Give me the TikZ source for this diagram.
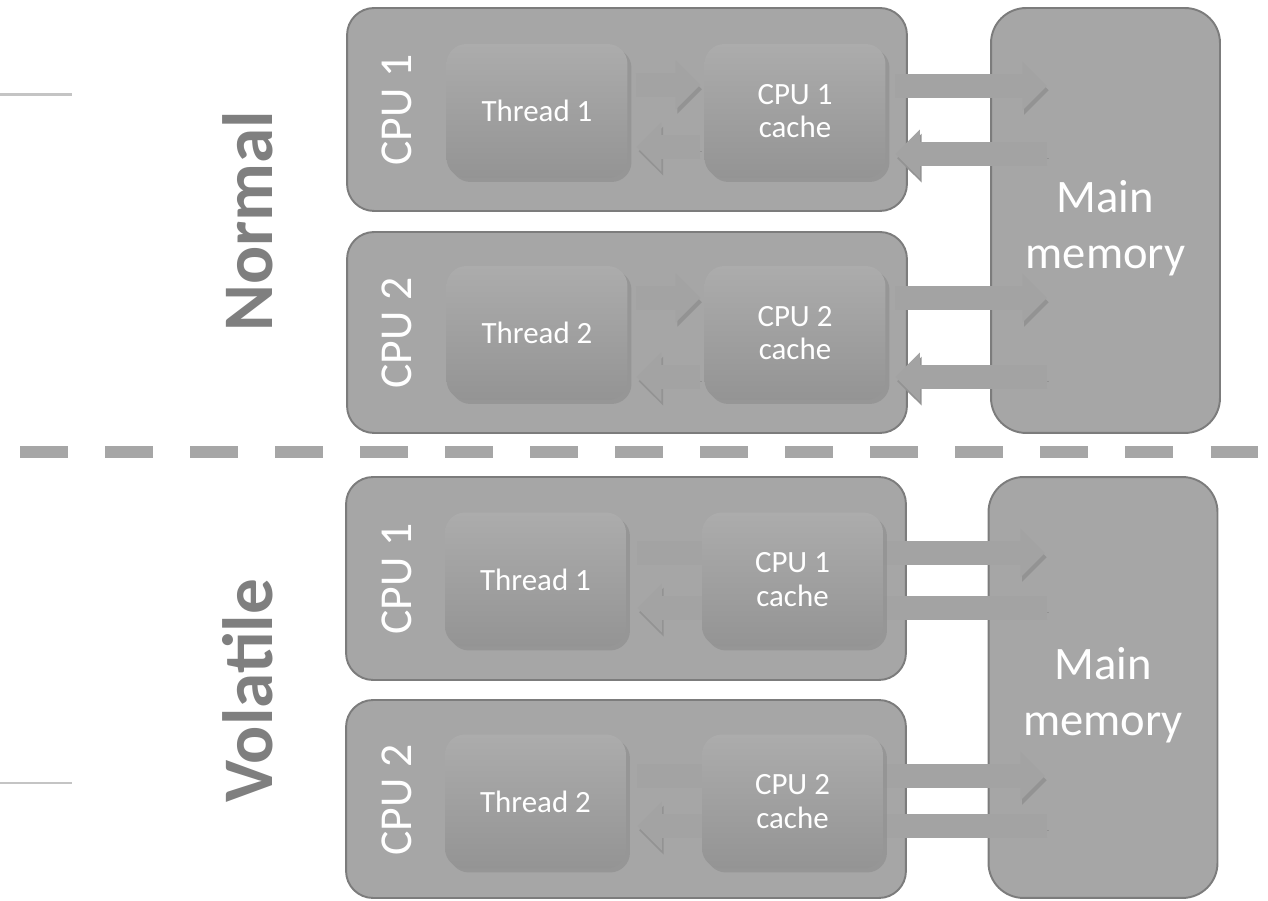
\documentclass[tikz,border=0pt]{standalone}
\usepackage{fontspec}
\setmainfont{Carlito}
\usepackage{tikz}
\usetikzlibrary{arrows.meta,shadows}

\definecolor{boxgray}{HTML}{A6A6A6}
\definecolor{edgegray}{HTML}{7C7C7C}
\definecolor{innertop}{HTML}{ACACAC}
\definecolor{innerbot}{HTML}{949494}
\definecolor{arrowgray}{HTML}{A3A3A3}
\definecolor{shadegray}{HTML}{939393}
\definecolor{labelgray}{HTML}{7F7F7F}
\definecolor{tickgray}{HTML}{C4C4C4}

\pgfdeclarelayer{bg}
\pgfdeclarelayer{mid}
\pgfsetlayers{bg,mid,main}

\begin{document}
\begin{tikzpicture}[x=0.02cm,y=-0.02cm]
	\tikzstyle{cpu}=[rectangle,rounded corners=0.54cm,fill=boxgray,draw=edgegray,line width=1.1pt,minimum width=11.2cm,minimum height=4.06cm]
	\tikzstyle{memory}=[rectangle,rounded corners=0.7cm,fill=boxgray,draw=edgegray,line width=1.1pt,minimum width=4.58cm]
	\tikzstyle{memtext}=[text=white,align=center,font=\fontsize{26.5}{32}\selectfont]
	\tikzstyle{inner}=[rectangle,rounded corners=0.4cm,top color=innertop,bottom color=innerbot,minimum width=3.62cm,minimum height=2.68cm,inner sep=0pt,text=white,align=center,font=\fontsize{17.6}{19}\selectfont,drop shadow={shadow xshift=0.08cm,shadow yshift=-0.08cm,opacity=0.4}]
	\tikzstyle{cpulabel}=[rotate=90,text=white,font=\fontsize{26}{30}\selectfont]
	\tikzstyle{modelabel}=[rotate=90,text=labelgray,font=\bfseries\fontsize{40.5}{46}\selectfont]
	\tikzstyle{flow}=[draw=arrowgray,line width=14pt,-{Triangle[width=27pt,length=14pt]},preaction={draw=shadegray,transform canvas={xshift=1pt,yshift=-2.4pt}}]
	\tikzstyle{tick}=[draw=tickgray,line width=1.7pt]
	\tikzstyle{sep}=[draw=boxgray,line width=6.8pt,dash pattern=on 27.2pt off 21.2pt]

	\useasboundingbox (0,0) rectangle (1268,901);

	% normal
	\begin{pgfonlayer}{bg}
		\node[cpu] (cpuA) at (627,109.5) {};
		\node[cpu,minimum height=4.02cm] (cpuB) at (627,332.5) {};
		\node[memory,minimum height=8.5cm] (memA) at (1105.5,220.5) {};
	\end{pgfonlayer}
	\node[memtext] (memAtext) at (1105.5,228) {Main\\memory};
	\node[cpulabel] (cpuAlab) at (397,110) {CPU 1};
	\node[inner] (threadA) at (537,111) {Thread 1};
	\node[inner] (cacheA) at (795,111) {CPU 1\\cache};
	\node[cpulabel] (cpuBlab) at (397,333) {CPU 2};
	\node[inner] (threadB) at (537,333) {Thread 2};
	\node[inner] (cacheB) at (795,333) {CPU 2\\cache};
	\coordinate (memA1) at (1047,86);
	\coordinate (memA2) at (1047,154);
	\coordinate (memA3) at (1047,298);
	\coordinate (memA4) at (1047,377);
	\begin{pgfonlayer}{mid}
		\draw[flow,shorten <=0.16cm,shorten >=0.08cm] ([yshift=0.52cm]threadA.east) -- ([yshift=0.52cm]cacheA.west);
		\draw[flow,shorten <=0.08cm,shorten >=0.18cm] ([yshift=-0.72cm]cacheA.west) -- ([yshift=-0.72cm]threadA.east);
		\draw[flow,shorten <=0.19cm] (cacheA.east |- memA1) -- (memA1);
		\draw[flow,shorten >=0.19cm] (memA2) -- (cacheA.east |- memA2);
		\draw[flow,shorten <=0.16cm,shorten >=0.08cm] ([yshift=0.7cm]threadB.east) -- ([yshift=0.7cm]cacheB.west);
		\draw[flow,shorten <=0.08cm,shorten >=0.18cm] ([yshift=-0.88cm]cacheB.west) -- ([yshift=-0.88cm]threadB.east);
		\draw[flow,shorten <=0.19cm] (cacheB.east |- memA3) -- (memA3);
		\draw[flow,shorten >=0.19cm] (memA4) -- (cacheB.east |- memA4);
	\end{pgfonlayer}

	% volatile
	\begin{pgfonlayer}{bg}
		\node[cpu] (cpuC) at (626,578.5) {};
		\node[cpu,minimum height=3.96cm] (cpuD) at (626,799) {};
		\node[memory,minimum height=8.42cm] (memB) at (1103,687.5) {};
	\end{pgfonlayer}
	\node[memtext] (memBtext) at (1103,695) {Main\\memory};
	\node[cpulabel] (cpuClab) at (397,579) {CPU 1};
	\node[inner] (threadC) at (535.5,579.5) {Thread 1};
	\node[inner] (cacheC) at (792.5,579.5) {CPU 1\\cache};
	\node[cpulabel] (cpuDlab) at (397,800) {CPU 2};
	\node[inner] (threadD) at (535.5,801.5) {Thread 2};
	\node[inner] (cacheD) at (792.5,801.5) {CPU 2\\cache};
	\coordinate (memB1) at (1045,553);
	\coordinate (memB2) at (1047,608);
	\coordinate (memB3) at (1045,776);
	\coordinate (memB4) at (1047,826);
	\begin{pgfonlayer}{mid}
		\draw[flow,shorten <=0.22cm] (threadC.east |- memB1) -- (memB1);
		\draw[flow,shorten >=0.22cm] (memB2) -- (threadC.east |- memB2);
		\draw[flow,shorten <=0.22cm] (threadD.east |- memB3) -- (memB3);
		\draw[flow,shorten >=0.22cm] (memB4) -- (threadD.east |- memB4);
	\end{pgfonlayer}

	% labels, ticks and the separator
	\node[modelabel] (normal) at (248,221) {Normal};
	\node[modelabel] (volatile) at (248,691) {Volatile};
	\coordinate (tickA0) at (0,95);
	\coordinate (tickA1) at (72,95);
	\coordinate (tickB0) at (0,783);
	\coordinate (tickB1) at (72,783);
	\draw[tick] (tickA0) -- (tickA1);
	\draw[tick] (tickB0) -- (tickB1);
	\coordinate (sepL) at (20,452);
	\coordinate (sepR) at (1268,452);
	\draw[sep] (sepL) -- (sepR);
\end{tikzpicture}
\end{document}
